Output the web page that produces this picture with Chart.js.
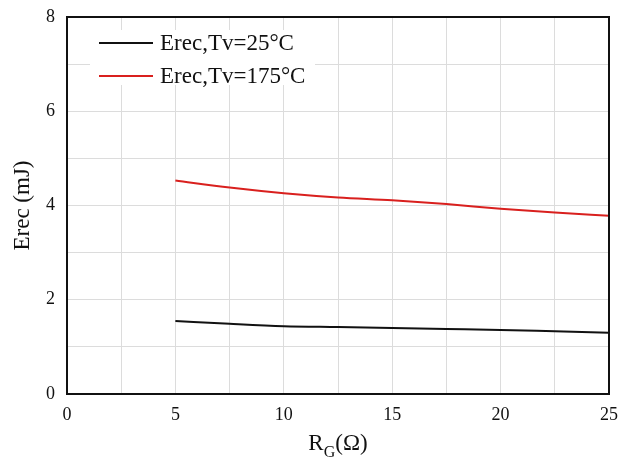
<!DOCTYPE html>
<html>
<head>
<meta charset="utf-8">
<script src="https://cdn.jsdelivr.net/npm/chart.js@4.4.1/dist/chart.umd.min.js"></script>
<style>
  html, body { margin: 0; padding: 0; background: #fff; }
  #wrap { width: 635px; height: 468px; }
</style>
</head>
<body>
<div id="wrap"><canvas id="chart1" width="635" height="468"></canvas></div>
<script>
// gate resistance (ohm) and reverse recovery energy (mJ)
const rgValues = [5, 7.5, 10, 12.5, 15, 17.5, 20, 22.5, 25];
const erec25 = [1.55, 1.49, 1.44, 1.42, 1.40, 1.38, 1.36, 1.33, 1.30];
const erec175 = [4.53, 4.38, 4.26, 4.17, 4.11, 4.03, 3.93, 3.85, 3.78];
const seriesLabels = ['Erec,Tv=25°C', 'Erec,Tv=175°C'];
const seriesColors = ['#111111', '#d9201e'];
const xTickLabels = ['0', '5', '10', '15', '20', '25'];
const yTickLabels = ['0', '2', '4', '6', '8'];

const serif = "'Liberation Serif', 'Times New Roman', serif";

function toPoints(xs, ys) {
  let arr = [];
  for (let i = 0; i < xs.length; i++) {
    arr.push({ x: xs[i], y: ys[i] });
  }
  return arr;
}

// frame, legend box and the R_G(Ω) title
const framePlugin = {
  id: 'frame',
  afterDraw(chart) {
    const ctx = chart.ctx;
    const a = chart.chartArea;
    ctx.save();
    ctx.strokeStyle = '#111';
    ctx.lineWidth = 2;
    ctx.strokeRect(a.left, a.top, a.right - a.left, a.bottom - a.top);

    // legend
    ctx.fillStyle = '#fff';
    ctx.fillRect(90, 30, 225, 55);
    ctx.font = '23px ' + serif;
    ctx.textBaseline = 'middle';
    chart.data.datasets.forEach((ds, i) => {
      const y = 43 + i * 33;
      ctx.strokeStyle = ds.borderColor;
      ctx.lineWidth = 2;
      ctx.beginPath();
      ctx.moveTo(99, y);
      ctx.lineTo(153, y);
      ctx.stroke();
      ctx.fillStyle = '#111';
      ctx.textAlign = 'left';
      ctx.fillText(ds.label, 160, y + 1);
    });

    // x axis title with subscript
    ctx.fillStyle = '#111';
    ctx.textBaseline = 'alphabetic';
    ctx.textAlign = 'left';
    ctx.font = '23px ' + serif;
    const wR = ctx.measureText('R').width;
    ctx.font = '16px ' + serif;
    const wG = ctx.measureText('G').width;
    ctx.font = '23px ' + serif;
    const wO = ctx.measureText('(Ω)').width;
    let x = 338 - (wR + wG + wO) / 2;
    const base = 450;
    ctx.fillText('R', x, base);
    x += wR;
    ctx.font = '16px ' + serif;
    ctx.fillText('G', x, base + 7);
    x += wG;
    ctx.font = '23px ' + serif;
    ctx.fillText('(Ω)', x, base);
    ctx.restore();
  }
};

const ctx = document.getElementById('chart1');
const myChart = new Chart(ctx, {
  type: 'line',
  data: {
    datasets: [{
      label: seriesLabels[0],
      data: toPoints(rgValues, erec25),
      borderColor: seriesColors[0],
      borderWidth: 2,
      pointRadius: 0,
      cubicInterpolationMode: 'monotone',
      fill: false
    }, {
      label: seriesLabels[1],
      data: toPoints(rgValues, erec175),
      borderColor: seriesColors[1],
      borderWidth: 2,
      pointRadius: 0,
      cubicInterpolationMode: 'monotone',
      fill: false
    }]
  },
  options: {
    responsive: false,
    animation: false,
    layout: { padding: { top: 17, right: 26, left: 0, bottom: 0 } },
    plugins: {
      legend: { display: false },
      tooltip: { enabled: false }
    },
    scales: {
      x: {
        type: 'linear',
        min: 0,
        max: 25,
        afterFit(scale) {
          scale.height = 74;
          scale.paddingLeft = 0;
          scale.paddingRight = 0;
        },
        border: { display: false },
        grid: { color: '#dcdcdc', lineWidth: 1, drawTicks: false },
        ticks: {
          stepSize: 2.5,
          padding: 10,
          maxRotation: 0,
          autoSkip: false,
          color: '#111',
          font: { family: serif, size: 18 },
          callback: (v) => xTickLabels.includes(String(v)) ? String(v) : ''
        }
      },
      y: {
        min: 0,
        max: 8,
        afterFit(scale) {
          scale.width = 67;
          scale.paddingTop = 0;
          scale.paddingBottom = 0;
        },
        border: { display: false },
        grid: { color: '#dcdcdc', lineWidth: 1, drawTicks: false },
        title: {
          display: true,
          text: 'Erec (mJ)',
          color: '#111',
          font: { family: serif, size: 23 },
          padding: { top: 9, bottom: 0 }
        },
        ticks: {
          stepSize: 1,
          padding: 12,
          autoSkip: false,
          color: '#111',
          font: { family: serif, size: 18 },
          callback: (v) => yTickLabels.includes(String(v)) ? String(v) : ''
        }
      }
    }
  },
  plugins: [framePlugin]
});
</script>
</body>
</html>
